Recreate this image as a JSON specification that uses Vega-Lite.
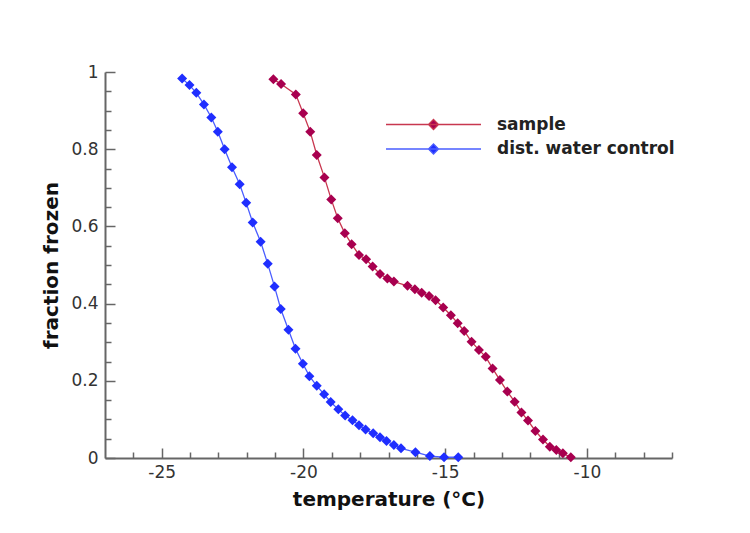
{
  "$schema": "https://vega.github.io/schema/vega-lite/v6.json",
  "width": 567,
  "height": 386,
  "autosize": "none",
  "padding": {"left": 105, "top": 72, "right": 78, "bottom": 75},
  "background": "white",
  "config": {
    "view": {"stroke": null},
    "font": "DejaVu Sans",
    "axis": {"labelFont": "DejaVu Sans", "titleFont": "DejaVu Sans", "grid": false}
  },
  "data": {
    "values": [
      {"t": -24.28, "f": 0.983, "series": "dist. water control"},
      {"t": -24.02, "f": 0.966, "series": "dist. water control"},
      {"t": -23.78, "f": 0.946, "series": "dist. water control"},
      {"t": -23.51, "f": 0.916, "series": "dist. water control"},
      {"t": -23.25, "f": 0.882, "series": "dist. water control"},
      {"t": -23.02, "f": 0.845, "series": "dist. water control"},
      {"t": -22.78, "f": 0.800, "series": "dist. water control"},
      {"t": -22.52, "f": 0.753, "series": "dist. water control"},
      {"t": -22.25, "f": 0.709, "series": "dist. water control"},
      {"t": -22.02, "f": 0.661, "series": "dist. water control"},
      {"t": -21.79, "f": 0.610, "series": "dist. water control"},
      {"t": -21.51, "f": 0.560, "series": "dist. water control"},
      {"t": -21.26, "f": 0.503, "series": "dist. water control"},
      {"t": -21.02, "f": 0.444, "series": "dist. water control"},
      {"t": -20.80, "f": 0.386, "series": "dist. water control"},
      {"t": -20.53, "f": 0.332, "series": "dist. water control"},
      {"t": -20.28, "f": 0.283, "series": "dist. water control"},
      {"t": -20.02, "f": 0.244, "series": "dist. water control"},
      {"t": -19.79, "f": 0.212, "series": "dist. water control"},
      {"t": -19.53, "f": 0.187, "series": "dist. water control"},
      {"t": -19.27, "f": 0.165, "series": "dist. water control"},
      {"t": -19.04, "f": 0.145, "series": "dist. water control"},
      {"t": -18.77, "f": 0.126, "series": "dist. water control"},
      {"t": -18.53, "f": 0.110, "series": "dist. water control"},
      {"t": -18.27, "f": 0.098, "series": "dist. water control"},
      {"t": -18.04, "f": 0.085, "series": "dist. water control"},
      {"t": -17.81, "f": 0.074, "series": "dist. water control"},
      {"t": -17.54, "f": 0.064, "series": "dist. water control"},
      {"t": -17.30, "f": 0.054, "series": "dist. water control"},
      {"t": -17.07, "f": 0.044, "series": "dist. water control"},
      {"t": -16.81, "f": 0.034, "series": "dist. water control"},
      {"t": -16.56, "f": 0.025, "series": "dist. water control"},
      {"t": -16.05, "f": 0.015, "series": "dist. water control"},
      {"t": -15.54, "f": 0.005, "series": "dist. water control"},
      {"t": -15.04, "f": 0.002, "series": "dist. water control"},
      {"t": -14.54, "f": 0.002, "series": "dist. water control"},
      {"t": -21.06, "f": 0.981, "series": "sample"},
      {"t": -20.79, "f": 0.969, "series": "sample"},
      {"t": -20.27, "f": 0.942, "series": "sample"},
      {"t": -20.01, "f": 0.893, "series": "sample"},
      {"t": -19.76, "f": 0.845, "series": "sample"},
      {"t": -19.53, "f": 0.785, "series": "sample"},
      {"t": -19.26, "f": 0.727, "series": "sample"},
      {"t": -19.02, "f": 0.670, "series": "sample"},
      {"t": -18.79, "f": 0.621, "series": "sample"},
      {"t": -18.54, "f": 0.582, "series": "sample"},
      {"t": -18.30, "f": 0.554, "series": "sample"},
      {"t": -18.04, "f": 0.526, "series": "sample"},
      {"t": -17.79, "f": 0.515, "series": "sample"},
      {"t": -17.56, "f": 0.496, "series": "sample"},
      {"t": -17.30, "f": 0.477, "series": "sample"},
      {"t": -17.04, "f": 0.465, "series": "sample"},
      {"t": -16.81, "f": 0.457, "series": "sample"},
      {"t": -16.33, "f": 0.446, "series": "sample"},
      {"t": -16.07, "f": 0.437, "series": "sample"},
      {"t": -15.83, "f": 0.428, "series": "sample"},
      {"t": -15.57, "f": 0.420, "series": "sample"},
      {"t": -15.34, "f": 0.409, "series": "sample"},
      {"t": -15.07, "f": 0.390, "series": "sample"},
      {"t": -14.80, "f": 0.370, "series": "sample"},
      {"t": -14.56, "f": 0.349, "series": "sample"},
      {"t": -14.33, "f": 0.329, "series": "sample"},
      {"t": -14.07, "f": 0.301, "series": "sample"},
      {"t": -13.81, "f": 0.280, "series": "sample"},
      {"t": -13.57, "f": 0.262, "series": "sample"},
      {"t": -13.33, "f": 0.232, "series": "sample"},
      {"t": -13.07, "f": 0.202, "series": "sample"},
      {"t": -12.81, "f": 0.172, "series": "sample"},
      {"t": -12.55, "f": 0.146, "series": "sample"},
      {"t": -12.31, "f": 0.118, "series": "sample"},
      {"t": -12.08, "f": 0.097, "series": "sample"},
      {"t": -11.82, "f": 0.070, "series": "sample"},
      {"t": -11.55, "f": 0.048, "series": "sample"},
      {"t": -11.31, "f": 0.029, "series": "sample"},
      {"t": -11.08, "f": 0.021, "series": "sample"},
      {"t": -10.85, "f": 0.012, "series": "sample"},
      {"t": -10.57, "f": 0.002, "series": "sample"}
    ]
  },
  "resolve": {
    "axis": {"x": "independent", "y": "independent"},
    "scale": {"color": "independent"}
  },
  "layer": [
    {
      "mark": {"type": "line", "strokeWidth": 1.3},
      "encoding": {
        "x": {
          "field": "t", "type": "quantitative",
          "scale": {"domain": [-27, -7], "nice": false, "zero": false},
          "axis": {
            "orient": "bottom", "title": null, "labels": false, "domain": false,
            "values": [-26, -24, -23, -22, -21, -19, -18, -17, -16, -14, -13, -12, -11, -9, -8, -7],
            "tickSize": -6, "tickColor": "#666", "tickWidth": 1.5
          }
        },
        "y": {
          "field": "f", "type": "quantitative",
          "scale": {"domain": [0, 1], "nice": false},
          "axis": {
            "orient": "left", "title": null, "labels": false, "domain": false,
            "values": [0.05, 0.1, 0.15, 0.25, 0.3, 0.35, 0.45, 0.5, 0.55, 0.65, 0.7, 0.75, 0.85, 0.9, 0.95],
            "tickSize": -6, "tickColor": "#666", "tickWidth": 1.5
          }
        },
        "color": {
          "field": "series", "type": "nominal",
          "scale": {"domain": ["sample", "dist. water control"], "range": ["#C8374F", "#4A5DFF"]},
          "legend": null
        }
      }
    },
    {
      "mark": {"type": "point", "shape": "diamond", "filled": true, "size": 100, "opacity": 1},
      "encoding": {
        "x": {
          "field": "t", "type": "quantitative",
          "axis": {
            "orient": "bottom", "title": "temperature (°C)",
            "values": [-25, -20, -15, -10],
            "labelExpr": "replace(datum.label, '−', '-')",
            "tickSize": -10, "tickColor": "#666", "tickWidth": 1.5,
            "domainColor": "#666", "domainWidth": 2,
            "labelFontSize": 17, "labelColor": "#333", "labelPadding": 16,
            "titleFontSize": 20, "titleFontWeight": "bold", "titleColor": "#111",
            "titleBaseline": "alphabetic", "titleY": 47
          }
        },
        "y": {
          "field": "f", "type": "quantitative",
          "axis": {
            "orient": "left", "title": "fraction frozen",
            "values": [0, 0.2, 0.4, 0.6, 0.8, 1], "format": "~g",
            "tickSize": -10, "tickColor": "#666", "tickWidth": 1.5,
            "domainColor": "#666", "domainWidth": 2,
            "labelFontSize": 17, "labelColor": "#333", "labelPadding": 17,
            "titleFontSize": 20, "titleFontWeight": "bold", "titleColor": "#111",
            "titleBaseline": "alphabetic", "titleX": -48, "titleY": 193
          }
        },
        "color": {
          "field": "series", "type": "nominal",
          "scale": {"domain": ["sample", "dist. water control"], "range": ["#A8004F", "#1F2EFF"]},
          "legend": {
            "title": null, "orient": "none", "legendX": 320, "legendY": 44,
            "padding": 0, "rowPadding": 6.5,
            "symbolType": "M-9.5,0H9.5M0,-1L1,0L0,1L-1,0Z",
            "symbolSize": 100, "symbolStrokeWidth": 1.3, "symbolOpacity": 1,
            "labelFont": "DejaVu Sans", "labelFontSize": 17, "labelFontWeight": "bold",
            "labelColor": "#222", "labelOffset": 55, "labelLimit": 400,
            "encode": {"symbols": {"update": {"stroke": {"signal": "datum.value === 'sample' ? '#C8374F' : '#4A5DFF'"}}}}
          }
        }
      }
    }
  ]
}
